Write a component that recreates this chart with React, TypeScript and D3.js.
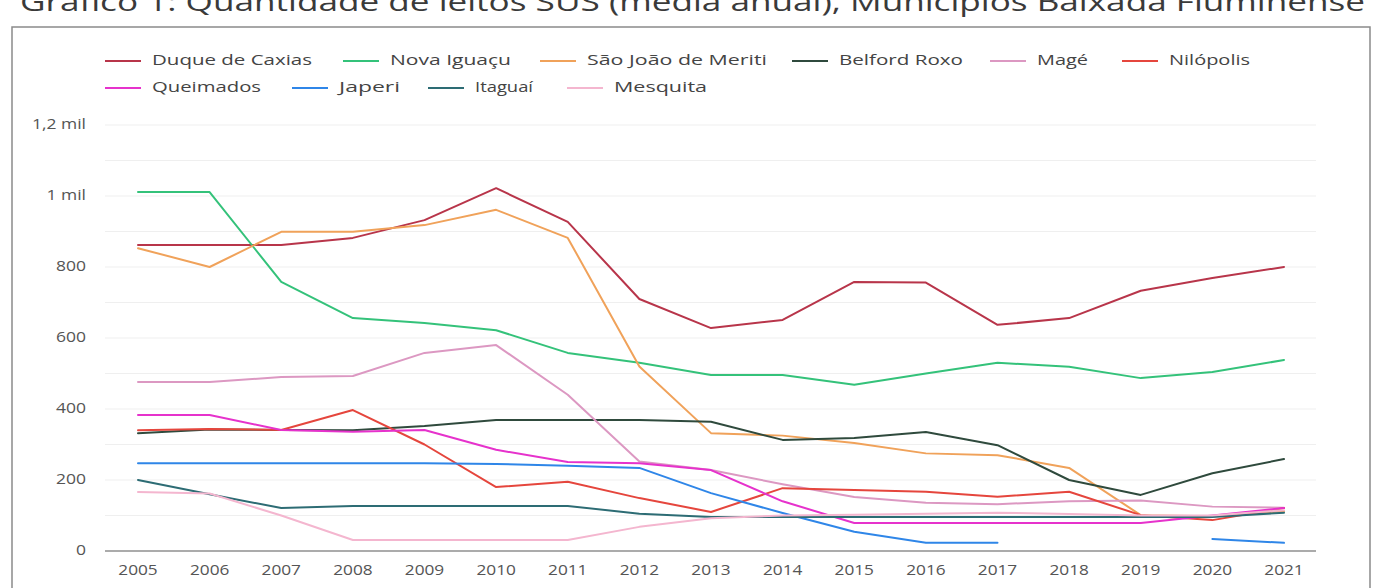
import React from "react";
import * as d3 from "d3";

const years = [2005, 2006, 2007, 2008, 2009, 2010, 2011, 2012, 2013, 2014, 2015, 2016, 2017, 2018, 2019, 2020, 2021];

const duqueDeCaxias = [862, 862, 862, 882, 932, 1022, 927, 710, 628, 651, 758, 756, 637, 656, 733, 769, 800];
const novaIguacu = [1011, 1011, 758, 656, 642, 622, 558, 530, 496, 496, 468, 500, 530, 519, 487, 504, 538];
const saoJoaoDeMeriti = [853, 800, 899, 899, 918, 961, 882, 520, 332, 325, 304, 275, 270, 234, 101, 98, 112];
const belfordRoxo = [332, 342, 341, 340, 352, 369, 369, 369, 364, 313, 318, 335, 298, 200, 158, 219, 259];
const mage = [476, 476, 490, 493, 558, 580, 440, 252, 228, 188, 152, 136, 132, 140, 142, 125, 122];
const nilopolis = [340, 344, 341, 397, 300, 180, 195, 149, 110, 177, 172, 167, 153, 167, 101, 87, 121];
const queimados = [383, 383, 341, 336, 341, 285, 251, 247, 228, 140, 79, 79, 79, 79, 79, 100, 121];
const japeri: (number | null)[] = [247, 247, 247, 247, 247, 245, 240, 234, 163, 107, 54, 23, 23, null, null, 34, 23];
const itaguai = [200, 160, 121, 127, 127, 127, 127, 105, 96, 96, 96, 96, 96, 96, 96, 96, 108];
const mesquita = [166, 162, 100, 31, 31, 31, 31, 68, 92, 100, 102, 105, 108, 104, 100, 100, 115];

const seriesNames = ["Duque de Caxias", "Nova Iguaçu", "São João de Meriti", "Belford Roxo", "Magé", "Nilópolis", "Queimados", "Japeri", "Itaguaí", "Mesquita"];
const seriesValues = [duqueDeCaxias, novaIguacu, saoJoaoDeMeriti, belfordRoxo, mage, nilopolis, queimados, japeri, itaguai, mesquita];

const yTickValues = [0, 200, 400, 600, 800, 1000, 1200];
const yTickLabels = ["0", "200", "400", "600", "800", "1 mil", "1,2 mil"];
const gridValues = [100, 200, 300, 400, 500, 600, 700, 800, 900, 1000, 1100, 1200];

const titleText = "Gráfico 1: Quantidade de leitos SUS (média anual), Municípios Baixada Fluminense";

// styles / layout (not data)
const colors = ["#b8354a", "#34c27a", "#f0a25a", "#2f4a3d", "#dc98c2", "#e5463d", "#e632cc", "#2f86e8", "#2d6c74", "#f4b6cf"];
const legendLayout = [
  { x: 105, y: 61, w: 160 },
  { x: 343, y: 61, w: 121 },
  { x: 540, y: 61, w: 180 },
  { x: 792, y: 61, w: 124 },
  { x: 990, y: 61, w: 51 },
  { x: 1122, y: 61, w: 81 },
  { x: 105, y: 88, w: 109 },
  { x: 292, y: 88, w: 61 },
  { x: 428, y: 88, w: 58 },
  { x: 567, y: 88, w: 93 },
];

const FONT = "'Open Sans', 'Noto Sans', sans-serif";

export default function App() {
  const W = 1380;
  const H = 588;
  const x = d3.scaleLinear().domain([2005, 2021]).range([138, 1284]);
  const y = d3.scaleLinear().domain([0, 1200]).range([551, 125]);

  const line = d3
    .line<[number, number | null]>()
    .defined((d) => d[1] != null)
    .x((d) => x(d[0]))
    .y((d) => y(d[1] as number));

  const plotLeft = 105;
  const plotRight = 1316;

  return (
    <svg
      width={W}
      height={H}
      viewBox={`0 0 ${W} ${H}`}
      style={{ position: "absolute", left: 0, top: 0, background: "#fff" }}
    >
      <rect x={0} y={0} width={W} height={H} fill="#fff" />
      <text
        x={20}
        y={11}
        fontFamily={FONT}
        fontSize={26}
        fill="#3a3a3a"
        textLength={1345}
        lengthAdjust="spacingAndGlyphs"
      >
        {titleText}
      </text>
      <rect x={12} y={27} width={1358} height={600} fill="none" stroke="#8a8a8a" strokeWidth={1.5} />

      {/* gridlines */}
      {gridValues.map((v) => (
        <line key={"g" + v} x1={plotLeft} x2={plotRight} y1={y(v)} y2={y(v)} stroke="#efefef" strokeWidth={1} />
      ))}
      <line x1={plotLeft} x2={plotRight} y1={y(0)} y2={y(0)} stroke="#8f8f8f" strokeWidth={1.5} />

      {/* y labels */}
      {yTickValues.map((v, i) => (
        <text
          key={"y" + v}
          transform={`translate(86,${y(v)}) scale(1.25,1)`}
          textAnchor="end"
          dominantBaseline="middle"
          fontFamily={FONT}
          fontSize={14}
          fill="#555"
        >
          {yTickLabels[i]}
        </text>
      ))}

      {/* x labels */}
      {years.map((yr) => (
        <text
          key={"x" + yr}
          transform={`translate(${x(yr)},575) scale(1.15,1)`}
          textAnchor="middle"
          fontFamily={FONT}
          fontSize={15}
          fill="#555"
        >
          {String(yr)}
        </text>
      ))}

      {/* lines */}
      {seriesValues.map((vals, i) => (
        <path
          key={"s" + i}
          d={line(years.map((yr, j) => [yr, vals[j]] as [number, number | null])) || ""}
          fill="none"
          stroke={colors[i]}
          strokeWidth={2}
          strokeLinejoin="round"
          strokeLinecap="round"
        />
      ))}

      {/* legend */}
      {seriesNames.map((name, i) => {
        const L = legendLayout[i];
        return (
          <g key={"l" + i}>
            <line x1={L.x} x2={L.x + 36} y1={L.y} y2={L.y} stroke={colors[i]} strokeWidth={2} />
            <text
              x={L.x + 47}
              y={L.y}
              dominantBaseline="middle"
              fontFamily={FONT}
              fontSize={14}
              fill="#444"
              textLength={L.w}
              lengthAdjust="spacingAndGlyphs"
            >
              {name}
            </text>
          </g>
        );
      })}
    </svg>
  );
}
